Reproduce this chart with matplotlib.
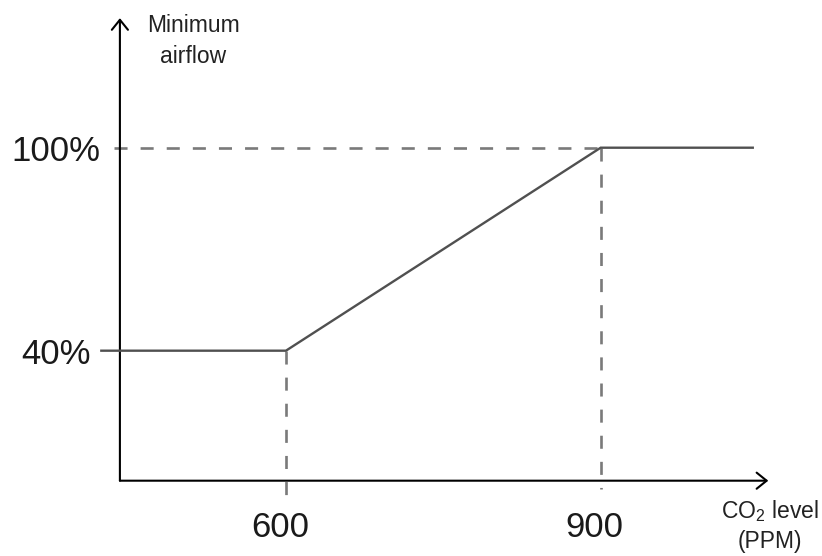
import matplotlib
matplotlib.use("Agg")
import matplotlib.pyplot as plt

# ---- data ----
co2_breaks = [600, 900]            # PPM thresholds (x tick values)
airflow_levels = [40, 100]         # % minimum airflow (y tick values)
x_tick_labels = ["600", "900"]
y_tick_labels = ["40%", "100%"]
curve_x = [424, 600, 900, 1045]    # control curve, PPM
curve_y = [40, 40, 100, 100]       # control curve, %

plt.rcParams['lines.scale_dashes'] = False
plt.rcParams['mathtext.fontset'] = 'custom'
plt.rcParams['mathtext.rm'] = 'Liberation Sans'

big_font = ['Liberation Sans']
small_font = ['Liberation Sans']

W, H = 822, 556
fig = plt.figure(figsize=(W / 100, H / 100), dpi=100)
ax = fig.add_axes([0, 0, 1, 1])
ax.set_xlim(327.4, 1111)
ax.set_ylim(-20.69, 143.66)
ax.axis('off')

x0, y0 = 441.7, 1.57          # axis origin (data)
x_end, y_end = 1059.8, 138.3  # arrow tips

arrow = dict(arrowstyle='->,head_length=0.72,head_width=0.58', lw=1.5,
             color='black', shrinkA=0, shrinkB=0)
ax.annotate('', xy=(x0, y_end), xytext=(x0, y0), arrowprops=arrow)
ax.annotate('', xy=(x_end, y0), xytext=(x0, y0), arrowprops=arrow)

dash_kw = dict(color='#7a7a7a', lw=1.9, linestyle=(0, (9.4, 9.4)), solid_capstyle='butt')
# horizontal dashed reference at 100%
ax.plot([436, co2_breaks[1]], [airflow_levels[1], airflow_levels[1]], **dash_kw)
# vertical dashed references
ax.plot([co2_breaks[0], co2_breaks[0]], [airflow_levels[0], -3.5], **dash_kw)
ax.plot([co2_breaks[1], co2_breaks[1]], [airflow_levels[1], -0.8], **dash_kw)

# control curve
ax.plot(curve_x, curve_y, color='#505050', lw=1.7, solid_joinstyle='miter', zorder=5)

# y tick labels
for lvl, lab in zip(airflow_levels, y_tick_labels):
    ax.annotate(lab, xy=(x0, lvl), xytext=(-64, -13), textcoords='offset pixels',
                ha='center', va='baseline', fontsize=25, family=big_font, color='#1a1a1a')
# x tick labels
for b, lab in zip(co2_breaks, x_tick_labels):
    ax.annotate(lab, xy=(b, y0), xytext=(-6, -56), textcoords='offset pixels',
                ha='center', va='baseline', fontsize=25, family=big_font, color='#1a1a1a')

# axis titles
def fx(px):
    return px / W
def fy(py):
    return 1 - py / H

fig.text(fx(193.5), fy(32), "Minimum", ha='center', va='baseline', fontsize=16.5,
         family=small_font, color='#222222')
fig.text(fx(193.5), fy(63), "airflow", ha='center', va='baseline', fontsize=16.5,
         family=small_font, color='#222222')
fig.text(fx(770), fy(518), r"CO$_\mathrm{2}$ level", ha='center', va='baseline', fontsize=16.5,
         family=small_font, color='#222222')
fig.text(fx(770), fy(548), "(PPM)", ha='center', va='baseline', fontsize=16.5,
         family=small_font, color='#222222')

fig.savefig("out.png", dpi=100)
